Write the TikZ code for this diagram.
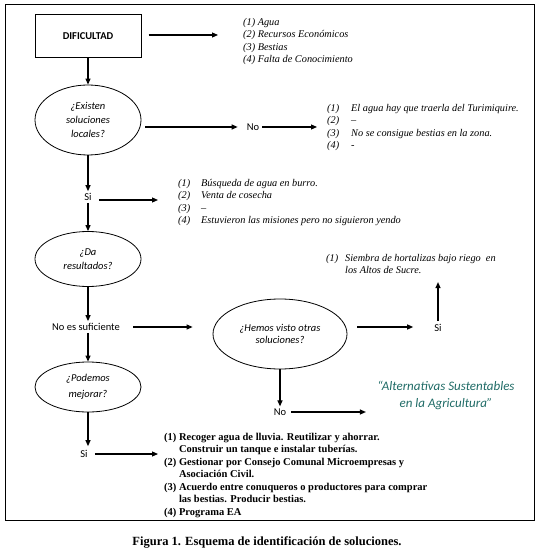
\documentclass[tikz,border=0pt]{standalone}
\usepackage{fontspec}
\setmainfont{Liberation Serif}
\newfontfamily\calib{Carlito}
\usetikzlibrary{arrows.meta,shapes.geometric}
\definecolor{tealtxt}{RGB}{31,107,102}
\begin{document}
\begin{tikzpicture}[x=1pt,y=-1pt,
  arr/.style={line width=1.1pt,-{Triangle[length=6pt,width=5pt]}},
  oval/.style={draw,ellipse,line width=0.8pt,inner sep=0pt,font=\calib\itshape\fontsize{10.5}{14}\selectfont,align=center},
  lbl/.style={font=\calib\fontsize{10.5}{12}\selectfont,inner sep=1pt},
  ilist/.style={font=\itshape\fontsize{10.3}{12.4}\selectfont,align=left,inner sep=0pt,anchor=north west},
  blist/.style={font=\bfseries\fontsize{10.5}{12.5}\selectfont,align=left,inner sep=0pt,anchor=north west}]
\useasboundingbox (0,0) rectangle (540,556);
\draw[line width=1pt] (5,5) rectangle (534,520);
% nodes
\node[draw,line width=1pt,minimum width=106pt,minimum height=43pt,font=\calib\bfseries\fontsize{10.5}{12}\selectfont] (dif) at (88,36) {DIFICULTAD};
\node[ilist] (l1) at (243,18) {(1) Agua\\(2) Recursos Económicos\\(3) Bestias\\(4) Falta de Conocimiento};
\node[oval,minimum width=106pt,minimum height=70pt] (e1) at (88,120) {¿Existen\\soluciones\\locales?};
\node[lbl] (no1) at (253,127) {No};
\node[ilist] (l2) at (327,104) {\makebox[24pt][l]{(1)}El agua hay que traerla del Turimiquire.\\\makebox[24pt][l]{(2)}–\\\makebox[24pt][l]{(3)}No se consigue bestias en la zona.\\\makebox[24pt][l]{(4)}-};
\node[lbl] (si1) at (88,197) {Si};
\node[ilist] (l3) at (178,179) {\makebox[23pt][l]{(1)}Búsqueda de agua en burro.\\\makebox[23pt][l]{(2)}Venta de cosecha\\\makebox[23pt][l]{(3)}–\\\makebox[23pt][l]{(4)}Estuvieron las misiones pero no siguieron yendo};
\node[oval,minimum width=106pt,minimum height=55pt] (e2) at (88,259) {¿Da\\resultados?};
\node[ilist] (l4) at (326,254) {\makebox[19pt][l]{(1)}Siembra de hortalizas bajo riego\ \ en\\\hspace*{19pt}los Altos de Sucre.};
\node[lbl] (nes) at (86,327) {No es suficiente};
\node[oval,minimum width=134pt,minimum height=70pt,font=\calib\itshape\fontsize{10.5}{12.5}\selectfont] (e4) at (280,334) {¿Hemos visto otras\\soluciones?};
\node[lbl] (si2) at (438,328) {Si};
\node[oval,minimum width=106pt,minimum height=50pt,font=\calib\itshape\fontsize{10.5}{16}\selectfont] (e3) at (88,387) {¿Podemos\\mejorar?};
\node[lbl] (no2) at (280,412) {No};
\node[font=\calib\itshape\fontsize{13}{17}\selectfont,text=tealtxt,align=center] (alt) at (446,395) {“Alternativas Sustentables\\en la Agricultura”};
\node[lbl] (si3) at (84,454) {Si};
\node[blist] (l5) at (164,433) {(1)~Recoger agua de lluvia. Reutilizar y ahorrar.\\\hphantom{(1)~}Construir un tanque e instalar tuberías.\\(2)~Gestionar por Consejo Comunal Microempresas y\\\hphantom{(2)~}Asociación Civil.\\(3)~Acuerdo entre conuqueros o productores para comprar\\\hphantom{(3)~}las bestias. Producir bestias.\\(4)~Programa EA};
\node[font=\bfseries\fontsize{12.5}{14}\selectfont] (cap) at (267,542) {Figura 1. Esquema de identificación de soluciones.};
% connectors
\draw[arr] ([xshift=7pt]dif.east |- 0,35) -- ([xshift=-25pt]l1.west |- 0,35);
\draw[arr] (dif.south) -- (e1.north);
\draw[arr] ([xshift=4pt]e1.east |- 0,127) -- ([xshift=-8pt]no1.west);
\draw[arr] ([xshift=2pt]no1.east) -- ([xshift=-10pt]l2.west |- no1.east);
\draw[arr] (e1.south) -- ([yshift=1pt]si1.north);
\draw[arr] ([xshift=6pt]si1.east |- 0,200) -- ([xshift=-20pt]l3.west |- 0,200);
\draw[arr] ([yshift=-1pt]si1.south) -- (e2.north);
\draw[arr] (e2.south) -- ([yshift=1pt]nes.north -| e2.south);
\draw[arr] ([xshift=12pt]nes.east) -- ([xshift=-20pt]e4.west |- nes.east);
\draw[arr] ([xshift=10pt]e4.east |- 0,327) -- ([xshift=-20pt]si2.west |- 0,327);
\draw[arr] ([yshift=2pt]si2.north) -- ([yshift=-8pt]l4.south -| si2.north);
\draw[arr] ([yshift=-1pt]nes.south -| e2.south) -- (e3.north);
\draw[arr] (e4.south) -- ([yshift=1pt]no2.north);
\draw[arr] ([xshift=4pt]no2.east) -- ([xshift=-8pt]alt.west |- no2.east);
\draw[arr] (e3.south) -- ([yshift=3pt]si3.north -| e3.south);
\draw[arr] ([xshift=6pt]si3.east) -- ([xshift=-6pt]l5.west |- si3.east);
\end{tikzpicture}
\end{document}
